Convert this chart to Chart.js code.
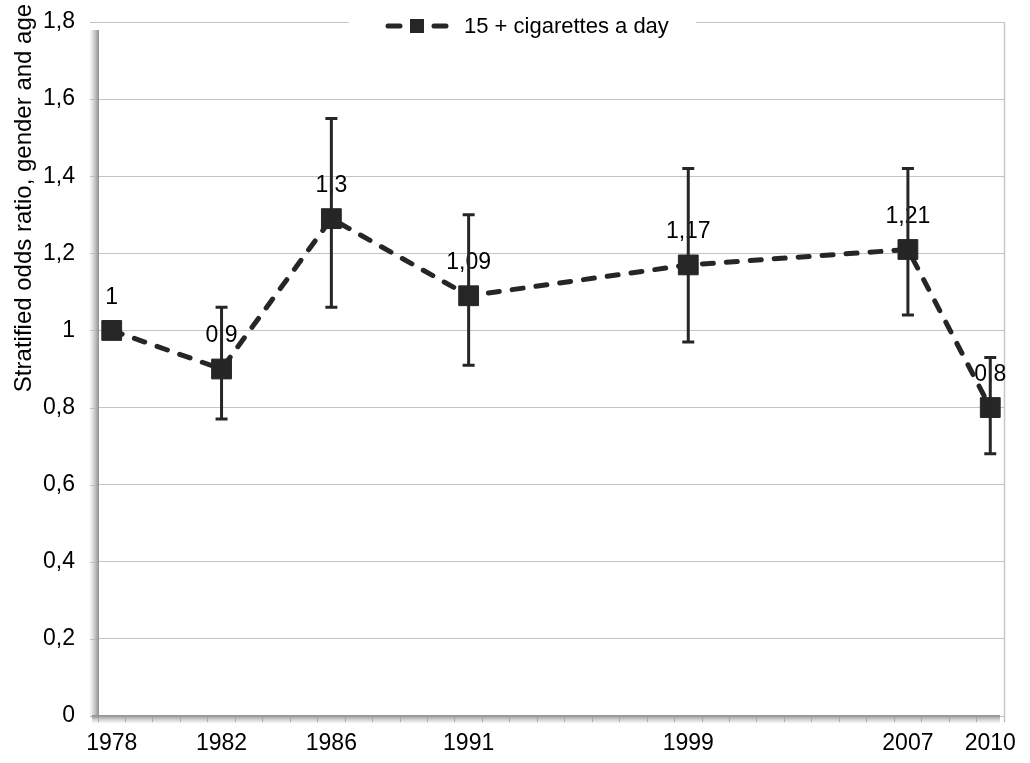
<!DOCTYPE html>
<html>
<head>
<meta charset="utf-8">
<script src="https://cdn.jsdelivr.net/npm/chart.js@4/dist/chart.umd.min.js"></script>
<style>
  html, body { margin: 0; padding: 0; background: #ffffff; }
  #wrap { width: 1030px; height: 763px; }
</style>
</head>
<body>
<div id="wrap"><canvas id="c" width="1030" height="763"></canvas></div>
<script>
// ---- data ----
const years = [1978, 1982, 1986, 1991, 1999, 2007, 2010];
const oddsRatio = [1, 0.9, 1.29, 1.09, 1.17, 1.21, 0.8];
const ciLow = [null, 0.77, 1.06, 0.91, 0.97, 1.04, 0.68];
const ciHigh = [null, 1.06, 1.55, 1.30, 1.42, 1.42, 0.93];
const valueLabels = ['1', '0,9', '1,3', '1,09', '1,17', '1,21', '0,8'];
const yTickLabels = ['0', '0,2', '0,4', '0,6', '0,8', '1', '1,2', '1,4', '1,6', '1,8'];
const seriesName = '15 + cigarettes a day';
const yTitle = 'Stratified odds ratio, gender and age';

const FONT = '"Liberation Sans", Arial, sans-serif';
const DARK = '#262626';
Chart.defaults.font.family = FONT;
Chart.defaults.color = '#000000';

// axis decoration: shaded axes, right border, short y tick marks
const axisDeco = {
  id: 'axisDeco',
  beforeDatasetsDraw(chart) {
    const { ctx, chartArea: a, scales } = chart;
    ctx.save();
    ctx.strokeStyle = '#c4c4c4';
    ctx.lineWidth = 1;
    ctx.beginPath();
    scales.y.ticks.forEach(t => {
      const y = Math.round(scales.y.getPixelForValue(t.value)) + 0.5;
      ctx.moveTo(a.left - 8, y);
      ctx.lineTo(a.left, y);
    });
    ctx.stroke();
    ctx.strokeStyle = '#c8c8c8';
    ctx.lineWidth = 1.5;
    ctx.beginPath();
    ctx.moveTo(a.right + 0.5, a.top);
    ctx.lineTo(a.right + 0.5, a.bottom + 5);
    ctx.stroke();
    let g = ctx.createLinearGradient(a.left - 9, 0, a.left + 1, 0);
    g.addColorStop(0, 'rgba(200,200,200,0)');
    g.addColorStop(0.6, 'rgba(175,175,175,0.75)');
    g.addColorStop(1, 'rgba(140,140,140,1)');
    ctx.fillStyle = g;
    ctx.fillRect(a.left - 9, a.top + 8, 10, a.bottom - a.top - 6);
    g = ctx.createLinearGradient(0, a.bottom - 1, 0, a.bottom + 8);
    g.addColorStop(0, 'rgba(140,140,140,1)');
    g.addColorStop(0.4, 'rgba(175,175,175,0.75)');
    g.addColorStop(1, 'rgba(200,200,200,0)');
    ctx.fillStyle = g;
    ctx.fillRect(a.left - 6, a.bottom - 1, a.right - a.left + 2, 9);
    ctx.restore();
  }
};

const labelsAndErrors = {
  id: 'labelsAndErrors',
  beforeDatasetsDraw(chart) {
    const { ctx } = chart;
    const meta = chart.getDatasetMeta(0);
    ctx.save();
    ctx.font = '23px ' + FONT;
    ctx.fillStyle = '#000';
    ctx.textAlign = 'center';
    ctx.textBaseline = 'middle';
    meta.data.forEach((pt, i) => {
      ctx.fillText(valueLabels[i], pt.x, pt.y - 33);
    });
    ctx.restore();
  },
  afterDatasetsDraw(chart) {
    const { ctx, scales } = chart;
    ctx.save();
    ctx.strokeStyle = DARK;
    ctx.lineWidth = 3;
    years.forEach((yr, i) => {
      if (ciLow[i] == null) return;
      const x = scales.x.getPixelForValue(yr);
      const y1 = scales.y.getPixelForValue(ciLow[i]);
      const y2 = scales.y.getPixelForValue(ciHigh[i]);
      ctx.beginPath();
      ctx.moveTo(x, y1); ctx.lineTo(x, y2);
      ctx.moveTo(x - 6, y1); ctx.lineTo(x + 6, y1);
      ctx.moveTo(x - 6, y2); ctx.lineTo(x + 6, y2);
      ctx.stroke();
    });
    ctx.restore();
  },
  afterDraw(chart) {
    const { ctx, chartArea: a } = chart;
    const ds = chart.data.datasets[0];
    ctx.save();
    const cx = (a.left + a.right) / 2 - 29;
    const boxL = cx - 173, boxR = cx + 174;
    ctx.fillStyle = '#ffffff';
    ctx.fillRect(boxL, a.top - 14, boxR - boxL, 38);
    const ly = a.top + 4;
    const sx = boxL + 37;
    ctx.strokeStyle = ds.borderColor;
    ctx.lineWidth = 5;
    ctx.lineCap = 'round';
    ctx.beginPath();
    ctx.moveTo(sx + 2, ly); ctx.lineTo(sx + 14, ly);
    ctx.moveTo(sx + 48, ly); ctx.lineTo(sx + 60, ly);
    ctx.stroke();
    ctx.fillStyle = ds.pointBackgroundColor;
    ctx.fillRect(sx + 24, ly - 7, 14, 14);
    ctx.fillStyle = '#000';
    ctx.font = '22px ' + FONT;
    ctx.textAlign = 'left';
    ctx.textBaseline = 'middle';
    ctx.fillText(ds.label, sx + 78, ly + 1);
    ctx.font = '24px ' + FONT;
    ctx.translate(24, 198);
    ctx.rotate(-Math.PI / 2);
    ctx.textAlign = 'center';
    ctx.fillText(yTitle, 0, 0);
    ctx.restore();
  }
};

const halfYearTicks = [];
for (let v = years[0] - 0.5; v <= years[years.length - 1] + 0.5; v += 1) halfYearTicks.push(v);

new Chart(document.getElementById('c'), {
  type: 'line',
  data: {
    datasets: [{
      label: seriesName,
      data: years.map((y, i) => ({ x: y, y: oddsRatio[i] })),
      borderColor: DARK,
      borderWidth: 5,
      borderDash: [11, 13],
      borderCapStyle: 'round',
      pointStyle: 'rect',
      pointRadius: 14,
      pointHoverRadius: 14,
      pointBackgroundColor: DARK,
      pointBorderColor: DARK,
      pointBorderWidth: 1,
      tension: 0,
      fill: false
    }]
  },
  options: {
    responsive: false,
    animation: false,
    devicePixelRatio: 1,
    layout: { padding: { left: 0, right: 26, top: 22, bottom: 0 } },
    plugins: { legend: { display: false }, tooltip: { enabled: false } },
    scales: {
      x: {
        type: 'linear',
        min: years[0] - 0.5,
        max: years[years.length - 1] + 0.5,
        afterBuildTicks(scale) {
          const t = halfYearTicks.map(v => ({ value: v }));
          years.forEach(y => t.push({ value: y }));
          t.sort((p, q) => p.value - q.value);
          scale.ticks = t;
        },
        afterFit(scale) { scale.height = 47; },
        grid: {
          drawOnChartArea: false,
          drawTicks: true,
          tickLength: 6,
          tickColor: (c) => (c.tick && Number.isInteger(c.tick.value)) ? 'rgba(0,0,0,0)' : '#a0a0a0',
          tickWidth: 1
        },
        border: { display: false },
        ticks: {
          autoSkip: false,
          maxRotation: 0,
          padding: 8,
          font: { size: 23 },
          color: '#000',
          callback: (v) => years.includes(v) ? String(v) : ''
        }
      },
      y: {
        min: 0,
        max: 1.8,
        afterBuildTicks(scale) {
          scale.ticks = yTickLabels.map((_, i) => ({ value: Math.round(i * 2) / 10 }));
        },
        afterFit(scale) { scale.width = 98; },
        grid: {
          color: '#c4c4c4',
          lineWidth: 1,
          tickLength: 23,
          tickColor: 'rgba(0,0,0,0)'
        },
        border: { display: false },
        ticks: {
          padding: 0,
          font: { size: 23 },
          color: '#000',
          callback: (v, i) => yTickLabels[i]
        }
      }
    }
  },
  plugins: [axisDeco, labelsAndErrors]
});
</script>
</body>
</html>
